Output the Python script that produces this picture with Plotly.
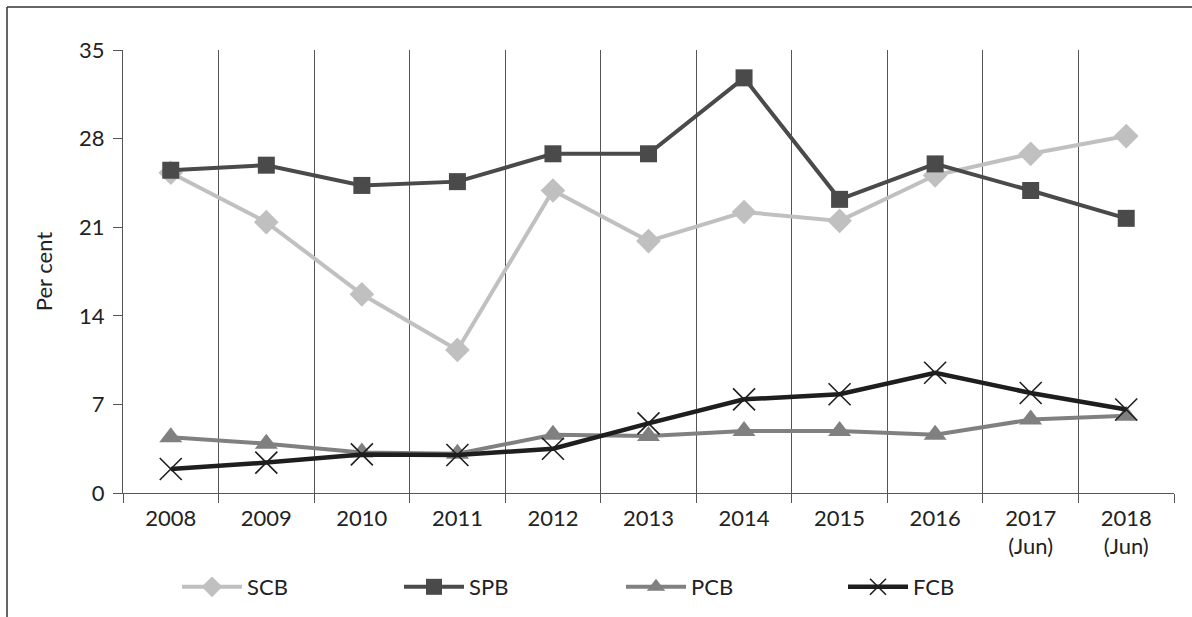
import plotly.graph_objects as go

categories = ["2008", "2009", "2010", "2011", "2012", "2013", "2014", "2015", "2016", "2017<br>(Jun)", "2018<br>(Jun)"]
scb = [25.3, 21.4, 15.7, 11.3, 23.9, 19.9, 22.2, 21.5, 25.1, 26.8, 28.2]
spb = [25.5, 25.9, 24.3, 24.6, 26.8, 26.8, 32.8, 23.2, 26.0, 23.9, 21.7]
pcb = [4.4, 3.9, 3.2, 3.1, 4.6, 4.5, 4.9, 4.9, 4.6, 5.8, 6.1]
fcb = [1.9, 2.4, 3.05, 3.0, 3.5, 5.5, 7.4, 7.8, 9.5, 7.9, 6.6]
y_ticks = [0, 7, 14, 21, 28, 35]

FONT = "Lato"
FS = 22
TXT = "#222222"

fig = go.Figure()
fig.add_trace(go.Scatter(x=categories, y=scb, name="SCB", mode="lines+markers",
                         line=dict(color="#c0c0c0", width=4),
                         marker=dict(symbol="diamond", size=19, color="#c0c0c0")))
fig.add_trace(go.Scatter(x=categories, y=spb, name="SPB", mode="lines+markers",
                         line=dict(color="#4a4a4a", width=4),
                         marker=dict(symbol="square", size=17, color="#4a4a4a")))
fig.add_trace(go.Scatter(x=categories, y=pcb, name="PCB", mode="lines+markers",
                         line=dict(color="#808080", width=4),
                         marker=dict(symbol="triangle-up", size=20, color="#808080")))
fig.add_trace(go.Scatter(x=categories, y=fcb, name="FCB", mode="lines+markers",
                         line=dict(color="#1e1e1e", width=4.5),
                         marker=dict(symbol="x-thin", size=22, color="#1e1e1e",
                                     line=dict(color="#1e1e1e", width=1.6))))

W, H = 1192, 617
L, R, T, B = 123, 18, 50, 124
PW = W - L - R
PH = H - T - B

fig.update_layout(
    width=W, height=H,
    paper_bgcolor="white", plot_bgcolor="white",
    margin=dict(l=L, r=R, t=T, b=B, autoexpand=False),
    font=dict(family=FONT, size=FS, color=TXT),
    showlegend=True,
    legend=dict(orientation="h", xref="container", yref="container",
                x=177 / W, xanchor="left",
                y=(H - 587) / H, yanchor="middle",
                font=dict(family=FONT, size=FS, color=TXT),
                entrywidth=147, entrywidthmode="pixels", itemwidth=60),
)
# outer frame: top and left edges
fx = (7 - L) / PW
fy = (T + PH - 7) / PH
fig.add_shape(type="line", xref="paper", yref="paper", x0=fx, x1=1.2, y0=fy, y1=fy,
              line=dict(color="#333333", width=1.5))
fig.add_shape(type="line", xref="paper", yref="paper", x0=fx, x1=fx, y0=-0.5, y1=fy,
              line=dict(color="#333333", width=1.5))

fig.update_xaxes(type="category", tickson="boundaries", ticks="outside", ticklen=9,
                 tickcolor="#555555", showgrid=True, gridcolor="#555555", gridwidth=1,
                 showline=True, linecolor="#555555", linewidth=1.2, automargin=False,
                 ticklabelstandoff=5,
                 tickfont=dict(family=FONT, size=FS, color=TXT),
                 range=[-0.5, len(categories) - 0.5])
fig.update_yaxes(range=[0, 35], tickvals=y_ticks, ticks="outside", ticklen=9,
                 tickcolor="#555555", showgrid=False, zeroline=False,
                 showline=True, linecolor="#555555", linewidth=1.2, automargin=False,
                 ticklabelstandoff=4,
                 tickfont=dict(family=FONT, size=FS, color=TXT),
                 title=dict(text="Per cent", standoff=20,
                            font=dict(family=FONT, size=FS, color=TXT)))

fig.write_html("out.html", config={"displayModeBar": False},
               post_script="document.body.style.margin='0';")
